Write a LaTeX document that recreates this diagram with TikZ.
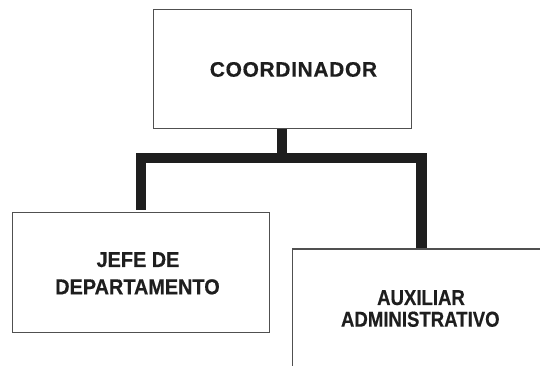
\documentclass[tikz,border=0pt]{standalone}
\usepackage{fontspec}
\setmainfont{Liberation Sans}
\newfontfamily\condfontA{Liberation Sans}[FakeStretch=0.92,FakeBold=0.4]
\newfontfamily\condfontB{Liberation Sans}[FakeStretch=0.86,FakeBold=0.4]
\newfontfamily\spacedfont{Liberation Sans}[LetterSpace=3,FakeBold=0.3]
\definecolor{ink}{HTML}{1E1E1E}
\definecolor{edge}{HTML}{505050}
\begin{document}
\begin{tikzpicture}[x=1pt,y=1pt,
  box/.style={draw=edge, line width=1.1pt, fill=white, inner sep=0pt},
  conn/.style={draw=ink, line width=10.5pt, line join=miter, line cap=butt},
  lbl/.style={anchor=base, inner sep=0pt, text=ink},
  fontA/.style={font=\condfontA\bfseries\fontsize{21.6}{26}\selectfont},
  fontB/.style={font=\condfontB\bfseries\fontsize{21.6}{26}\selectfont},
  fontT/.style={font=\spacedfont\bfseries\fontsize{21}{26}\selectfont}]
\useasboundingbox (0,0) rectangle (540,366);
\clip (0,0) rectangle (540,366);
\node[box, minimum width=257.7pt, minimum height=119pt] (top) at (282.2,297.2) {};
\node[box, minimum width=257pt, minimum height=120pt] (left) at (140.8,93.7) {};
\node[box, minimum width=258.6pt, minimum height=120pt] (right) at (421.7,57) {};
\coordinate (bar) at (281.7,208.2);
\draw[conn] (top.south) -- (top.south |- bar);
\draw[conn, shorten <=2pt] (left.north) -- (left.north |- bar) -- (right.north |- bar) -- (right.north);
\node[lbl, fontT] (coord) at (293.5,289.3) {COORDINADOR};
\node[lbl, fontA] (jefeA) at (138,99) {JEFE DE};
\node[lbl, fontA] (jefeB) at (137.5,71.7) {DEPARTAMENTO};
\node[lbl, fontB] (auxA) at (421,61) {AUXILIAR};
\node[lbl, fontB] (auxB) at (420.3,39.3) {ADMINISTRATIVO};
\end{tikzpicture}
\end{document}
